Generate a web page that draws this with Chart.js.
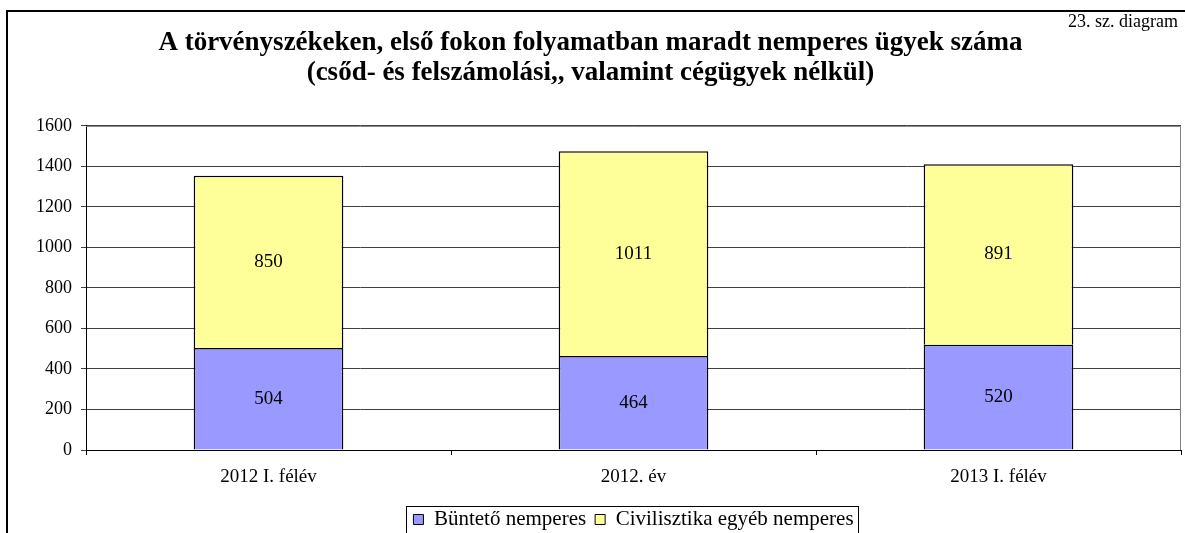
<!DOCTYPE html>
<html>
<head>
<meta charset="utf-8">
<script src="https://cdn.jsdelivr.net/npm/chart.js@4"></script>
<style>
    html, body { margin: 0; padding: 0; background: #fff; overflow: hidden; }
    #frame { position: absolute; left: 6px; top: 10px; width: 1300px; height: 700px; border-top: 2px solid #000; border-left: 2px solid #000; }
    #wrap { position: absolute; left: 0; top: 0; width: 1185px; height: 540px; }
</style>
</head>
<body>
<div id="frame"></div>
<div id="wrap"><canvas id="myChart"></canvas></div>
<script>
const categories = ['2012 I. félév', '2012. év', '2013 I. félév']
const buntetoValues = [504, 464, 520]
const civilValues = [850, 1011, 891]
const seriesNames = ['Büntető nemperes', 'Civilisztika egyéb nemperes']
const titleLines = ['A törvényszékeken, első fokon folyamatban maradt nemperes ügyek száma', '(csőd- és felszámolási,, valamint cégügyek nélkül)']
const cornerNote = '23. sz. diagram'

const serif = "'Liberation Serif', 'Times New Roman', serif"

// value in the middle of every bar segment
const barLabels = {
    id: 'barLabels',
    afterDatasetsDraw(chart) {
        const ctx = chart.ctx
        ctx.save()
        ctx.font = '19px ' + serif
        ctx.fillStyle = '#000'
        ctx.textAlign = 'center'
        ctx.textBaseline = 'middle'
        chart.data.datasets.forEach((ds, i) => {
            chart.getDatasetMeta(i).data.forEach((bar, j) => {
                ctx.fillText(ds.data[j], bar.x, (bar.y + bar.base) / 2)
            })
        })
        ctx.restore()
    }
}

// plot frame, corner note and the box round the legend
const decorations = {
    id: 'decorations',
    beforeDatasetsDraw(chart) {
        const a = chart.chartArea
        const ctx = chart.ctx
        ctx.save()
        ctx.strokeStyle = '#808080'
        ctx.lineWidth = 1
        ctx.beginPath()
        ctx.moveTo(a.left, a.top + 0.5)
        ctx.lineTo(a.right - 0.5, a.top + 0.5)
        ctx.lineTo(a.right - 0.5, a.bottom)
        ctx.stroke()
        ctx.restore()
    },
    afterDraw(chart) {
        const ctx = chart.ctx
        ctx.save()
        ctx.font = '18px ' + serif
        ctx.fillStyle = '#000'
        ctx.textAlign = 'right'
        ctx.textBaseline = 'middle'
        ctx.fillText(cornerNote, 1178, 22)
        const boxes = chart.legend.legendHitBoxes
        if (boxes && boxes.length) {
            const left = boxes[0].left - 7
            const last = boxes[boxes.length - 1]
            const right = last.left + last.width + 5
            const top = boxes[0].top - 3
            ctx.strokeStyle = '#000'
            ctx.lineWidth = 1
            ctx.strokeRect(Math.round(left) + 0.5, Math.round(top) + 0.5, Math.round(right - left), 40)
        }
        ctx.restore()
    }
}

const ctx = document.getElementById('myChart').getContext('2d')
const myChart = new Chart(ctx, {
    type: 'bar',
    data: {
        labels: categories,
        datasets: [{
            label: seriesNames[0],
            data: buntetoValues,
            backgroundColor: '#9999FF',
            borderColor: '#000',
            borderWidth: 1.5,
            barPercentage: 0.41,
            categoryPercentage: 1
        }, {
            label: seriesNames[1],
            data: civilValues,
            backgroundColor: '#FFFF99',
            borderColor: '#000',
            borderWidth: 1.5,
            barPercentage: 0.41,
            categoryPercentage: 1
        }]
    },
    options: {
        responsive: true,
        maintainAspectRatio: false,
        animation: false,
        layout: { padding: { left: 0, right: 4, top: 0, bottom: 0 } },
        scales: {
            x: {
                stacked: true,
                offset: true,
                grid: { offset: true, drawOnChartArea: false, color: '#000', tickLength: 5 },
                border: { color: '#000', width: 1 },
                ticks: { font: { family: serif, size: 19 }, color: '#000', padding: 11 },
                afterFit(scale) { scale.height = 50 }
            },
            y: {
                stacked: true,
                min: 0,
                max: 1600,
                ticks: {
                    stepSize: 200,
                    font: { family: serif, size: 18 },
                    color: '#000',
                    padding: 9,
                    callback: v => String(v)
                },
                grid: { color: '#404040', tickLength: 5 },
                border: { color: '#000', width: 1 },
                afterFit(scale) { scale.width = 86 }
            }
        },
        plugins: {
            title: {
                display: true,
                text: titleLines,
                font: { family: serif, size: 27, weight: 'bold', lineHeight: 1.11 },
                color: '#000',
                padding: { top: 28, bottom: 38 }
            },
            legend: {
                position: 'bottom',
                fullSize: false,
                labels: {
                    boxWidth: 10,
                    boxHeight: 10,
                    padding: 9,
                    color: '#000',
                    font: { family: serif, size: 21 },
                    generateLabels(chart) {
                        return chart.data.datasets.map((ds, i) => ({
                            text: ds.label,
                            fillStyle: ds.backgroundColor,
                            strokeStyle: '#000',
                            lineWidth: 1,
                            datasetIndex: i
                        }))
                    }
                }
            },
            tooltip: { enabled: false }
        }
    },
    plugins: [barLabels, decorations]
})
</script>
</body>
</html>
